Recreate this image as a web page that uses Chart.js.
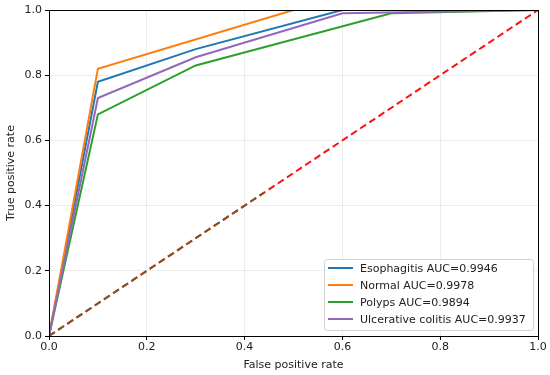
<!DOCTYPE html>
<html>
<head>
<meta charset="utf-8">
<script src="https://cdn.jsdelivr.net/npm/chart.js@4"></script>
<style>
  html, body { margin: 0; padding: 0; background: #fff; }
  #roc_chart { display: block; }
</style>
</head>
<body>
<canvas id="roc_chart" width="550" height="375"></canvas>
<script>
// ROC curve data per class (false positive rate / true positive rate)
const classNames = ['Esophagitis', 'Normal', 'Polyps', 'Ulcerative colitis'];
const aucValues = ['0.9946', '0.9978', '0.9894', '0.9937'];

const esoFpr = [0, 0.1, 0.3, 0.6, 1];
const esoTpr = [0, 0.78, 0.88, 1.0, 1.0];
const normalFpr = [0, 0.1, 0.5, 1];
const normalTpr = [0, 0.82, 1.0, 1.0];
const polypsFpr = [0, 0.1, 0.3, 0.7, 1];
const polypsTpr = [0, 0.68, 0.83, 0.99, 1.0];
const ulcerFpr = [0, 0.1, 0.3, 0.6, 1];
const ulcerTpr = [0, 0.73, 0.855, 0.99, 1.0];

// chance line (red) and the darker part of it near the origin
const chanceX = [0, 1];
const chanceY = [0, 1];
const chanceDarkX = [0, 0.44];
const chanceDarkY = [0, 0.44];

const tickValues = [0, 0.2, 0.4, 0.6, 0.8, 1.0];

const lineColors = ['#1f77b4', '#ff7f0e', '#2ca02c', '#9467bd'];

function pts(xs, ys) {
    return xs.map((x, i) => ({ x: x, y: ys[i] }));
}

const curves = [
    pts(esoFpr, esoTpr),
    pts(normalFpr, normalTpr),
    pts(polypsFpr, polypsTpr),
    pts(ulcerFpr, ulcerTpr)
];

let datasets = [];
for (let i = 0; i < curves.length; i++) {
    datasets.push({
        label: classNames[i] + ' AUC=' + aucValues[i],
        data: curves[i],
        borderColor: lineColors[i],
        borderWidth: 2,
        pointRadius: 0,
        tension: 0,
        order: 5 - i
    });
}
datasets.push({
    label: 'chance',
    data: pts(chanceX, chanceY),
    borderColor: '#ff1010',
    borderWidth: 2,
    borderDash: [7, 4],
    pointRadius: 0,
    order: 1
});
datasets.push({
    label: 'chance2',
    data: pts(chanceDarkX, chanceDarkY),
    borderColor: '#7a5a26',
    borderWidth: 2,
    borderDash: [7, 4],
    pointRadius: 0,
    order: 0
});

const FONT = 'DejaVu Sans';

// frame round the plot + legend inside lower right
const framePlugin = {
    id: 'frame',
    afterDraw(chart) {
        const ctx = chart.ctx;
        const a = chart.chartArea;
        ctx.save();
        ctx.strokeStyle = '#000';
        ctx.lineWidth = 1;
        ctx.strokeRect(Math.round(a.left) + 0.5, Math.round(a.top) + 0.5,
            Math.round(a.right - a.left), Math.round(a.bottom - a.top));

        // legend
        const boxW = 209, boxH = 71;
        const bx = a.right - 5 - boxW;
        const by = a.bottom - 6 - boxH;
        ctx.beginPath();
        ctx.roundRect(bx + 0.5, by + 0.5, boxW, boxH, 3);
        ctx.fillStyle = 'rgba(255,255,255,0.85)';
        ctx.fill();
        ctx.strokeStyle = '#d0d0d0';
        ctx.lineWidth = 1;
        ctx.stroke();
        ctx.font = '11px "' + FONT + '"';
        ctx.textBaseline = 'middle';
        for (let i = 0; i < classNames.length; i++) {
            const cy = by + 9 + i * 17;
            ctx.beginPath();
            ctx.moveTo(bx + 4, cy);
            ctx.lineTo(bx + 29, cy);
            ctx.strokeStyle = lineColors[i];
            ctx.lineWidth = 2;
            ctx.stroke();
            ctx.fillStyle = '#222';
            ctx.fillText(classNames[i] + ' AUC=' + aucValues[i], bx + 36, cy + 1);
        }
        ctx.restore();
    }
};

const ctx = document.getElementById('roc_chart').getContext('2d');
const roc_chart = new Chart(ctx, {
    type: 'line',
    data: { datasets: datasets },
    options: {
        responsive: false,
        animation: false,
        layout: { padding: { top: 10, right: 12, left: 0, bottom: 0 } },
        plugins: {
            legend: { display: false },
            tooltip: { enabled: false }
        },
        scales: {
            x: {
                type: 'linear',
                min: 0,
                max: 1,
                afterBuildTicks(scale) {
                    scale.ticks = tickValues.map(v => ({ value: v }));
                },
                afterFit(scale) { scale.height = 39; },
                ticks: {
                    color: '#222',
                    font: { family: FONT, size: 11 },
                    padding: 1,
                    callback: v => v.toFixed(1)
                },
                grid: {
                    color: 'rgba(0,0,0,0.07)',
                    borderDash: [3, 3],
                    tickColor: '#000',
                    tickBorderDash: [],
                    tickLength: 4
                },
                border: { display: true, color: '#000' },
                title: {
                    display: true,
                    text: 'False positive rate',
                    color: '#222',
                    font: { family: FONT, size: 11 },
                    padding: { top: 0, bottom: 3 }
                }
            },
            y: {
                type: 'linear',
                min: 0,
                max: 1,
                afterBuildTicks(scale) {
                    scale.ticks = tickValues.map(v => ({ value: v }));
                },
                afterFit(scale) { scale.width = 49; },
                ticks: {
                    color: '#222',
                    font: { family: FONT, size: 11 },
                    padding: 3,
                    callback: v => v.toFixed(1)
                },
                grid: {
                    color: 'rgba(0,0,0,0.07)',
                    borderDash: [3, 3],
                    tickColor: '#000',
                    tickBorderDash: [],
                    tickLength: 4
                },
                border: { display: true, color: '#000' },
                title: {
                    display: true,
                    text: 'True positive rate',
                    color: '#222',
                    font: { family: FONT, size: 11 },
                    padding: { top: 5, bottom: 0 }
                }
            }
        }
    },
    plugins: [framePlugin]
});
</script>
</body>
</html>
